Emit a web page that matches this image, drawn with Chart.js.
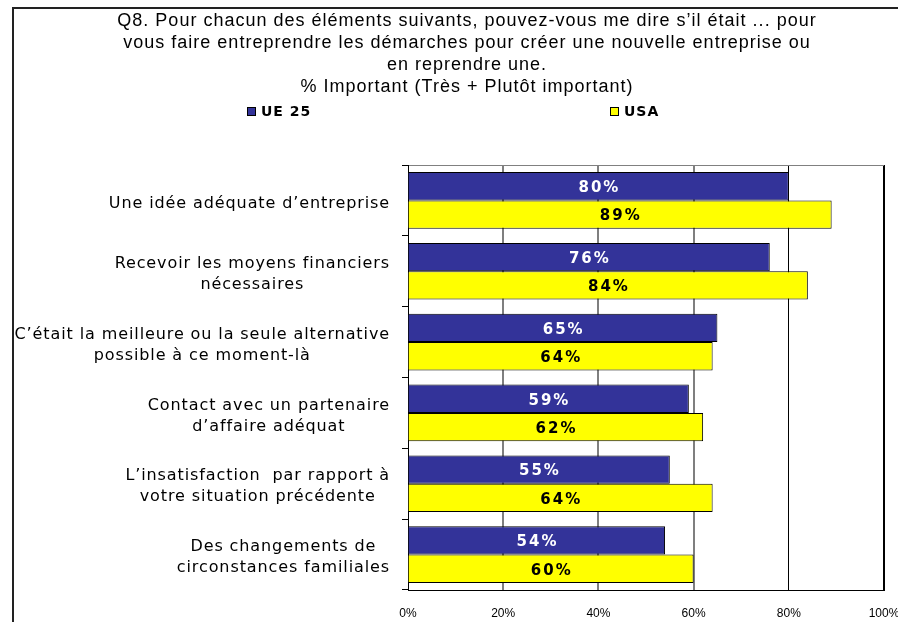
<!DOCTYPE html>
<html>
<head>
<meta charset="utf-8">
<script src="https://cdn.jsdelivr.net/npm/chart.js@4/dist/chart.umd.min.js"></script>
<style>
  html, body { margin: 0; padding: 0; background: #fff; }
  #wrap { width: 898px; height: 622px; }
</style>
</head>
<body>
<div id="wrap"><canvas id="q8Chart" width="898" height="622"></canvas></div>
<script>
// Q8 - éléments importants pour créer / reprendre une entreprise
const titleLines = [
  'Q8. Pour chacun des éléments suivants, pouvez-vous me dire s’il était ... pour',
  'vous faire entreprendre les démarches pour créer une nouvelle entreprise ou',
  'en reprendre une.',
  '% Important (Très + Plutôt important)'
];
const categories = [
  ['Une idée adéquate d’entreprise'],
  ['Recevoir les moyens financiers', 'nécessaires'],
  ['C’était la meilleure ou la seule alternative', 'possible à ce moment-là'],
  ['Contact avec un partenaire', 'd’affaire adéquat'],
  ['L’insatisfaction  par rapport à', 'votre situation précédente'],
  ['Des changements de', 'circonstances familiales']
];
const ue25 = [80, 76, 65, 59, 55, 54];
const usa = [89, 84, 64, 62, 64, 60];
const xTickLabels = ['0%', '20%', '40%', '60%', '80%', '100%'];

const navy = '#333399';
const yellow = '#FFFF00';

// titre, légende, libellés et cadre dessinés à la main
const decor = {
  id: 'decor',
  beforeDraw(chart) {
    const c = chart.ctx;
    c.save();
    c.strokeStyle = '#222';
    c.lineWidth = 2;
    c.beginPath();
    c.moveTo(13, 622);
    c.lineTo(13, 8);
    c.lineTo(898, 8);
    c.stroke();
    c.restore();
  },
  afterDatasetsDraw(chart) {
    const c = chart.ctx;
    c.save();
    c.font = 'bold 15px "DejaVu Sans"';
    c.letterSpacing = '2px';
    c.textAlign = 'center';
    c.textBaseline = 'middle';
    chart.data.datasets.forEach((ds, di) => {
      chart.getDatasetMeta(di).data.forEach((bar, i) => {
        const left = chart.scales.x.getPixelForValue(0);
        c.fillStyle = di === 0 ? '#fff' : '#000';
        c.fillText(ds.data[i] + '%', (left + bar.x) / 2 + 1, bar.y + 2);
      });
    });
    c.restore();
  },
  afterDraw(chart) {
    const c = chart.ctx;
    c.save();
    // titre
    c.fillStyle = '#000';
    c.textAlign = 'center';
    c.textBaseline = 'middle';
    c.font = '18px "Liberation Sans"';
    c.letterSpacing = '1px';
    titleLines.forEach((t, i) => c.fillText(t, 467, 21 + i * 22));

    // légende
    c.font = 'bold 14px "DejaVu Sans"';
    c.letterSpacing = '1px';
    c.textAlign = 'left';
    const legX = [247, 610];
    chart.data.datasets.forEach((ds, i) => {
      c.fillStyle = ds.backgroundColor;
      c.fillRect(legX[i], 107, 9, 9);
      c.strokeStyle = '#000';
      c.lineWidth = 1;
      c.strokeRect(legX[i] + 0.5, 107.5, 8, 8);
      c.fillStyle = '#000';
      c.fillText(ds.label, legX[i] + 14, 112);
    });

    // libellés de l'axe des catégories
    c.letterSpacing = '0.9px';
    c.font = '16px "DejaVu Sans"';
    c.textAlign = 'center';
    const yScale = chart.scales.y;
    const right = chart.chartArea.left - 18;
    const lh = 21;
    chart.data.labels.forEach((lines, i) => {
      const w = Math.max(...lines.map(l => c.measureText(l).width));
      const cx = right - w / 2;
      const yc = yScale.getPixelForTick(i) + 3;
      lines.forEach((l, k) => {
        c.fillText(l, cx, yc + (k - (lines.length - 1) / 2) * lh);
      });
    });
    c.restore();
  }
};

new Chart(document.getElementById('q8Chart'), {
  type: 'bar',
  data: {
    labels: categories,
    datasets: [
      { label: 'UE 25', data: ue25, backgroundColor: navy, borderColor: '#000', borderWidth: 1 },
      { label: 'USA', data: usa, backgroundColor: yellow, borderColor: '#000', borderWidth: 1 }
    ]
  },
  options: {
    indexAxis: 'y',
    responsive: false,
    animation: false,
    layout: { padding: { top: 165, right: 14, left: 0, bottom: 0 } },
    datasets: { bar: { categoryPercentage: 0.8, barPercentage: 1 } },
    plugins: {
      legend: { display: false },
      title: { display: false },
      tooltip: { enabled: false }
    },
    scales: {
      x: {
        min: 0,
        max: 100,
        ticks: {
          stepSize: 20,
          color: '#000',
          padding: 16,
          font: { family: '"Liberation Sans"', size: 12 },
          callback: (v, i) => xTickLabels[i]
        },
        grid: {
          drawTicks: false,
          color: ['#000000', '#7f7f7f', '#7f7f7f', '#7f7f7f', '#000000', '#000000'],
          lineWidth: [1, 2, 2, 2, 1, 2]
        },
        border: { color: '#000', width: 1 },
        afterFit: s => { s.height = 32; s.paddingLeft = 0; s.paddingRight = 0; }
      },
      y: {
        ticks: { display: false },
        grid: {
          offset: true,
          tickLength: 6,
          tickColor: '#000',
          color: ctx => ctx.index === 0 ? '#808080' : 'rgba(0,0,0,0)'
        },
        border: { color: '#000', width: 1 },
        afterFit: s => { s.width = 408; }
      }
    }
  },
  plugins: [decor]
});
</script>
</body>
</html>
